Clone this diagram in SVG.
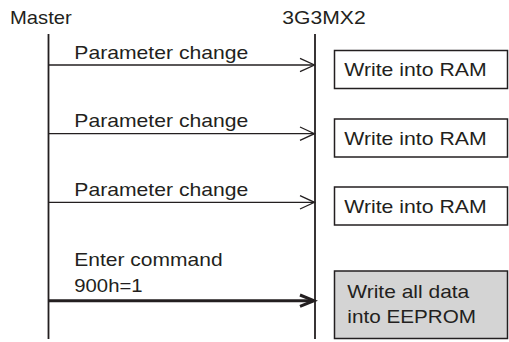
<svg xmlns="http://www.w3.org/2000/svg" width="509" height="342" viewBox="0 0 509 342">
<style>
text{font-family:"Liberation Sans",Arial,sans-serif;font-size:17.7px;fill:#231f20}
.life{stroke:#231f20;stroke-width:1.8;fill:none}
.msg{stroke:#231f20;stroke-width:1.3;fill:none}
.thick{stroke:#231f20;stroke-width:3;fill:none}
.box{fill:#fff;stroke:#231f20;stroke-width:1.5}
.gbox{fill:#d4d4d4;stroke:#231f20;stroke-width:1.5}
</style>
<rect width="509" height="342" fill="#fff"/>
<g id="master">
<text x="10" y="24" textLength="61.7" lengthAdjust="spacingAndGlyphs">Master</text>
<line class="life" x1="48.5" y1="34" x2="48.5" y2="339"/>
</g>
<g id="device">
<text x="282.3" y="24" textLength="83.4" lengthAdjust="spacingAndGlyphs">3G3MX2</text>
<line class="life" x1="315" y1="34" x2="315" y2="339"/>
</g>
<g id="ram1">
<rect class="box" x="334.5" y="50.5" width="173" height="38"/>
<text x="344.3" y="76" textLength="142.3" lengthAdjust="spacingAndGlyphs">Write into RAM</text>
</g>
<g id="ram2">
<rect class="box" x="334.5" y="119" width="173" height="38"/>
<text x="344.3" y="144.5" textLength="142.3" lengthAdjust="spacingAndGlyphs">Write into RAM</text>
</g>
<g id="ram3">
<rect class="box" x="334.5" y="187" width="173" height="38"/>
<text x="344.3" y="212.5" textLength="142.3" lengthAdjust="spacingAndGlyphs">Write into RAM</text>
</g>
<g id="eeprom">
<rect class="gbox" x="334.5" y="271" width="173" height="67.5"/>
<text x="347.3" y="298.3" textLength="122" lengthAdjust="spacingAndGlyphs">Write all data</text>
<text x="347.3" y="323.3" textLength="128.7" lengthAdjust="spacingAndGlyphs">into EEPROM</text>
</g>
<g id="connectors">
<line class="msg" x1="48.5" y1="65" x2="314" y2="65"/>
<polyline class="msg" points="300,58.3 314.5,65 300,71.7"/>
<text x="74.3" y="58.5" textLength="174" lengthAdjust="spacingAndGlyphs">Parameter change</text>
<line class="msg" x1="48.5" y1="133.7" x2="314" y2="133.7"/>
<polyline class="msg" points="300,127 314.5,133.7 300,140.4"/>
<text x="74.3" y="127" textLength="174" lengthAdjust="spacingAndGlyphs">Parameter change</text>
<line class="msg" x1="48.5" y1="202.3" x2="314" y2="202.3"/>
<polyline class="msg" points="300,195.6 314.5,202.3 300,209"/>
<text x="74.3" y="195.7" textLength="174" lengthAdjust="spacingAndGlyphs">Parameter change</text>
<line class="thick" x1="48.5" y1="300.7" x2="313" y2="300.7"/>
<polyline class="thick" points="300,295 314,300.7 300,306.4"/>
<text x="74.3" y="266" textLength="148.3" lengthAdjust="spacingAndGlyphs">Enter command</text>
<text x="74.3" y="292.3" textLength="68.3" lengthAdjust="spacingAndGlyphs">900h=1</text>
</g>
</svg>
